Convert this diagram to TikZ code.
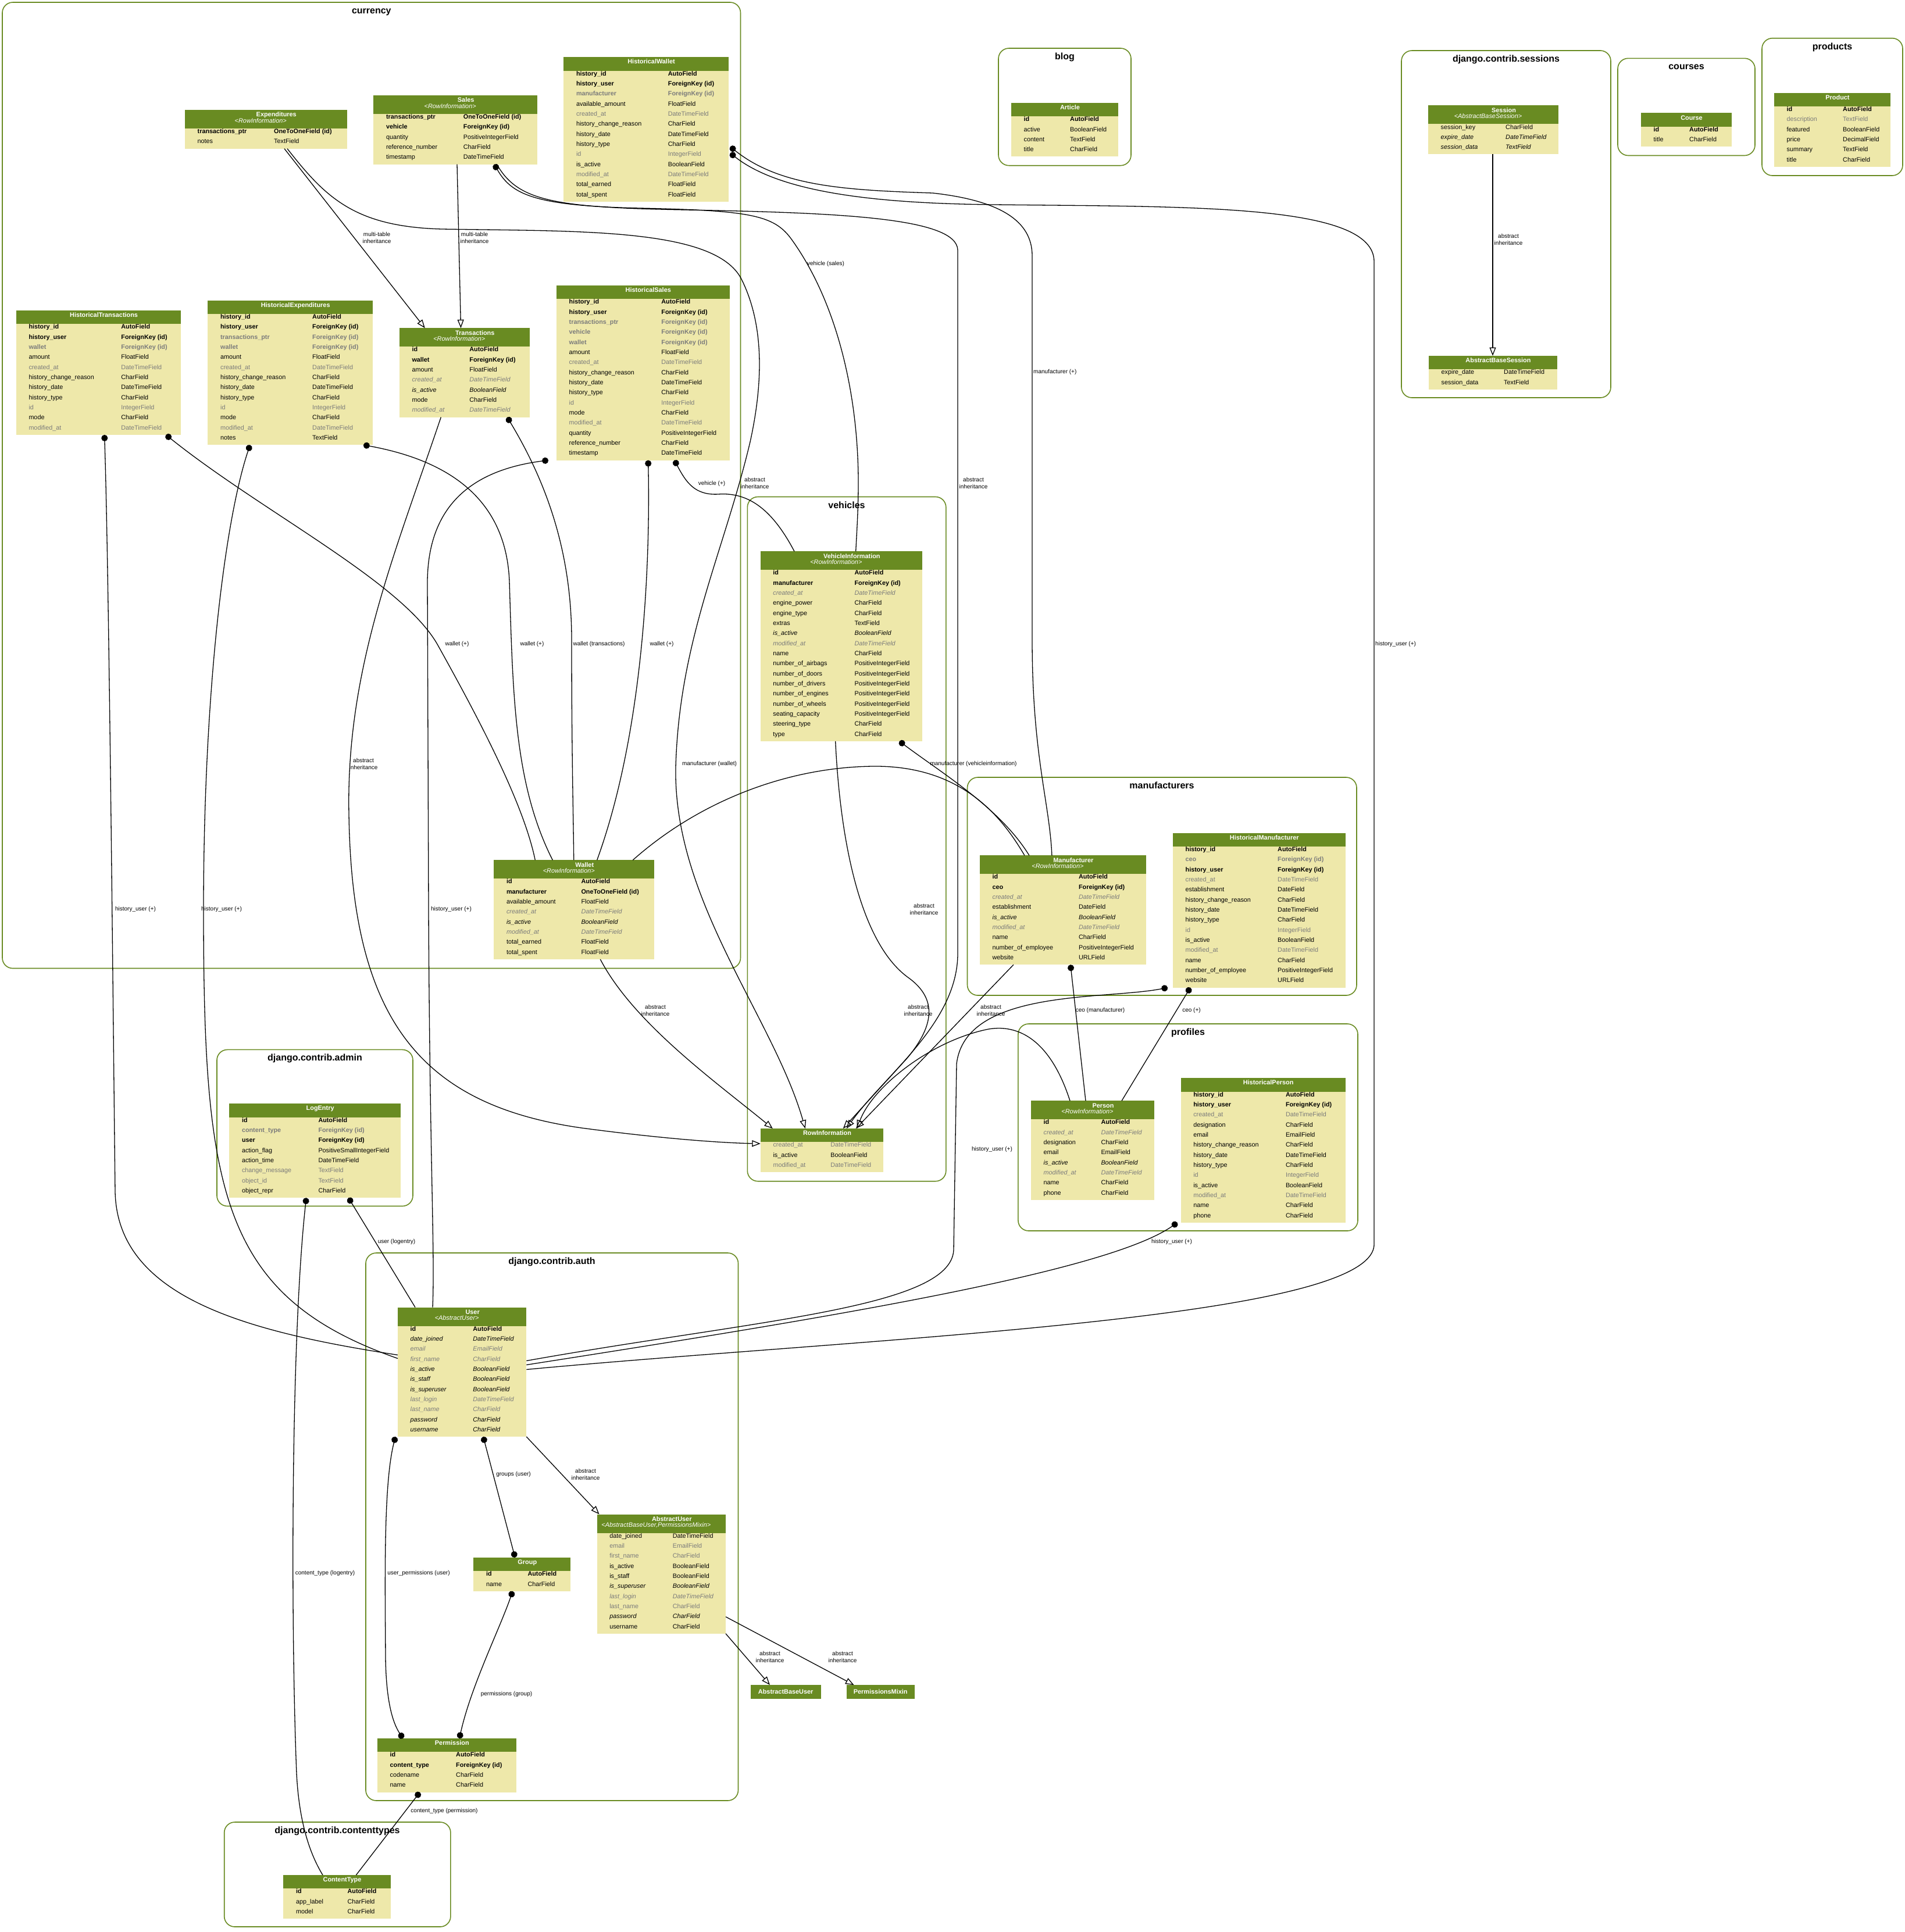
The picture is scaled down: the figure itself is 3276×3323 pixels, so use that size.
\documentclass[tikz,border=0pt]{standalone}
\usepackage{fontspec}
\setmainfont{Liberation Sans}
\usetikzlibrary{calc,arrows.meta}

\definecolor{tblgreen}{HTML}{698B22}
\definecolor{tblpale}{HTML}{EEE8AA}
\definecolor{fieldgray}{HTML}{7B7B7B}

\tikzset{
  tblbody/.style={fill=tblpale, inner sep=0pt, outer sep=0pt},
  hdrtext/.style={text=white, inner sep=0pt, anchor=mid, font=\fontsize{10.9}{12}\selectfont\bfseries},
  hdrsub/.style={text=white, inner sep=0pt, anchor=mid, font=\fontsize{10.9}{12}\selectfont\itshape},
  hdronly/.style={fill=tblgreen, text=white, inner sep=0pt, anchor=north west, minimum height=23.3pt, font=\fontsize{10.9}{12}\selectfont\bfseries},
  cell/.style={inner sep=0pt, anchor=mid west, font=\fontsize{10.8}{12}\selectfont},
  fn/.style={},
  fb/.style={font=\fontsize{10.8}{12}\selectfont\bfseries},
  fi/.style={font=\fontsize{10.8}{12}\selectfont\itshape},
  fg/.style={text=fieldgray},
  fgb/.style={text=fieldgray, font=\fontsize{10.8}{12}\selectfont\bfseries},
  fgi/.style={text=fieldgray, font=\fontsize{10.8}{12}\selectfont\itshape},
  cluster/.style={draw=tblgreen, line width=1.6pt, rounded corners=18pt},
  apptitle/.style={font=\fontsize{16}{18}\selectfont\bfseries, inner sep=0pt, anchor=mid},
  rel/.style={line width=1.3pt},
  fk/.style={rel, {Circle[length=11pt]}-},
  mm/.style={rel, {Circle[length=11pt]}-{Circle[length=11pt]}},
  inh/.style={rel, -{Triangle[open, length=14.5pt, width=11pt]}},
  lbl/.style={font=\fontsize{10}{11.3}\selectfont, align=center, inner sep=0pt}
}

% #1 name, #2 left, #3 top, #4 width, #5 type column, #6 title, #7 parents, #8 rows
\newcommand{\dbtable}[8]{%
  \def\hdrh{23.3}\ifx\relax#7\relax\else\def\hdrh{32}\fi
  \foreach \fsty/\fname/\ftype [count=\k] in {#8} {\xdef\nrows{\k}}
  \pgfmathsetmacro\tblh{\hdrh+17.33*\nrows}
  \node[tblbody, minimum width=#4pt, minimum height=\tblh pt, anchor=north west] (#1) at (#2,#3) {};
  \fill[tblgreen] (#1.north west) rectangle ++(#4,\hdrh);
  \ifx\relax#7\relax
    \node[hdrtext] (#1-title) at ($(#1.north west)+(#4/2+9,9)$) {#6};
  \else
    \node[hdrtext] (#1-title) at ($(#1.north west)+(#4/2+18,9.3)$) {#6};
    \node[hdrsub] (#1-sub) at ($(#1.north west)+(#4/2-9,19.7)$) {<#7>};
  \fi
  \foreach \fsty/\fname/\ftype [count=\k] in {#8} {
    \pgfmathsetmacro\rowy{\hdrh+6+17.33*(\k-1)}
    \node[cell,\fsty] (#1-n\k) at ($(#1.north west)+(21.5,\rowy)$) {\fname};
    \node[cell,\fsty] (#1-t\k) at ($(#1.north west)+(#5,\rowy)$) {\ftype};
  }
}

\begin{document}
\begin{tikzpicture}[x=1pt,y=-1pt]
  \useasboundingbox[fill=white] (0,0) rectangle (3276,3323);

  % apps
  \draw[cluster] (4,4) rectangle (1273.5,1665.5);
  \node[apptitle] (app-currency) at (638.8,21) {currency};
  \draw[cluster] (1717,83) rectangle (1945,284.7);
  \node[apptitle] (app-blog) at (1831,100) {blog};
  \draw[cluster] (2410,87) rectangle (2770,684);
  \node[apptitle] (app-sessions) at (2590,104) {django.contrib.sessions};
  \draw[cluster] (2782,100.3) rectangle (3018,267.5);
  \node[apptitle] (app-courses) at (2900,117.3) {courses};
  \draw[cluster] (3030,65.7) rectangle (3272,302);
  \node[apptitle] (app-products) at (3151,82.7) {products};
  \draw[cluster] (1285.3,854.5) rectangle (1626.8,2031.7);
  \node[apptitle] (app-vehicles) at (1456,871.5) {vehicles};
  \draw[cluster] (1663.5,1337) rectangle (2333,1712);
  \node[apptitle] (app-manufacturers) at (1998,1354) {manufacturers};
  \draw[cluster] (1750.9,1761) rectangle (2335,2117);
  \node[apptitle] (app-profiles) at (2043,1778) {profiles};
  \draw[cluster] (373,1805.4) rectangle (710,2074.5);
  \node[apptitle] (app-admin) at (541.5,1822) {django.contrib.admin};
  \draw[cluster] (629,2155) rectangle (1269.5,3097);
  \node[apptitle] (app-auth) at (949,2172) {django.contrib.auth};
  \draw[cluster] (385.7,3134) rectangle (774.9,3314);
  \node[apptitle] (app-contenttypes) at (580,3151) {django.contrib.contenttypes};

  % currency
  \dbtable{expenditures}{318}{189}{278.5}{153}{Expenditures}{RowInformation}{
    fb/transactions\_ptr/OneToOneField (id), fn/notes/TextField}
  \dbtable{sales}{642.4}{164}{281.6}{154.3}{Sales}{RowInformation}{
    fb/transactions\_ptr/OneToOneField (id), fb/vehicle/ForeignKey (id),
    fn/quantity/PositiveIntegerField, fn/reference\_number/CharField, fn/timestamp/DateTimeField}
  \dbtable{histwallet}{969.3}{98.3}{283.5}{179.4}{HistoricalWallet}{}{
    fb/history\_id/AutoField, fb/history\_user/ForeignKey (id), fgb/manufacturer/ForeignKey (id),
    fn/available\_amount/FloatField, fg/created\_at/DateTimeField, fn/history\_change\_reason/CharField,
    fn/history\_date/DateTimeField, fn/history\_type/CharField, fg/id/IntegerField,
    fn/is\_active/BooleanField, fg/modified\_at/DateTimeField, fn/total\_earned/FloatField,
    fn/total\_spent/FloatField}
  \dbtable{histtrans}{27.8}{534}{283.6}{180.4}{HistoricalTransactions}{}{
    fb/history\_id/AutoField, fb/history\_user/ForeignKey (id), fgb/wallet/ForeignKey (id),
    fn/amount/FloatField, fg/created\_at/DateTimeField, fn/history\_change\_reason/CharField,
    fn/history\_date/DateTimeField, fn/history\_type/CharField, fg/id/IntegerField,
    fn/mode/CharField, fg/modified\_at/DateTimeField}
  \dbtable{histexp}{357.4}{516.7}{283.6}{179.6}{HistoricalExpenditures}{}{
    fb/history\_id/AutoField, fb/history\_user/ForeignKey (id), fgb/transactions\_ptr/ForeignKey (id),
    fgb/wallet/ForeignKey (id), fn/amount/FloatField, fg/created\_at/DateTimeField,
    fn/history\_change\_reason/CharField, fn/history\_date/DateTimeField, fn/history\_type/CharField,
    fg/id/IntegerField, fn/mode/CharField, fg/modified\_at/DateTimeField, fn/notes/TextField}
  \dbtable{transactions}{686.8}{564.3}{224}{120.4}{Transactions}{RowInformation}{
    fb/id/AutoField, fb/wallet/ForeignKey (id), fn/amount/FloatField, fgi/created\_at/DateTimeField,
    fi/is\_active/BooleanField, fn/mode/CharField, fgi/modified\_at/DateTimeField}
  \dbtable{histsales}{957}{491}{297.6}{180.2}{HistoricalSales}{}{
    fb/history\_id/AutoField, fb/history\_user/ForeignKey (id), fgb/transactions\_ptr/ForeignKey (id),
    fgb/vehicle/ForeignKey (id), fgb/wallet/ForeignKey (id), fn/amount/FloatField,
    fg/created\_at/DateTimeField, fn/history\_change\_reason/CharField, fn/history\_date/DateTimeField,
    fn/history\_type/CharField, fg/id/IntegerField, fn/mode/CharField, fg/modified\_at/DateTimeField,
    fn/quantity/PositiveIntegerField, fn/reference\_number/CharField, fn/timestamp/DateTimeField}
  \dbtable{wallet}{849.3}{1479.3}{276}{150}{Wallet}{RowInformation}{
    fb/id/AutoField, fb/manufacturer/OneToOneField (id), fn/available\_amount/FloatField,
    fgi/created\_at/DateTimeField, fi/is\_active/BooleanField, fgi/modified\_at/DateTimeField,
    fn/total\_earned/FloatField, fn/total\_spent/FloatField}

  % vehicles
  \dbtable{vehicleinfo}{1307.7}{948.3}{278.3}{161.7}{VehicleInformation}{RowInformation}{
    fb/id/AutoField, fb/manufacturer/ForeignKey (id), fgi/created\_at/DateTimeField,
    fn/engine\_power/CharField, fn/engine\_type/CharField, fn/extras/TextField,
    fi/is\_active/BooleanField, fgi/modified\_at/DateTimeField, fn/name/CharField,
    fn/number\_of\_airbags/PositiveIntegerField, fn/number\_of\_doors/PositiveIntegerField,
    fn/number\_of\_drivers/PositiveIntegerField, fn/number\_of\_engines/PositiveIntegerField,
    fn/number\_of\_wheels/PositiveIntegerField, fn/seating\_capacity/PositiveIntegerField,
    fn/steering\_type/CharField, fn/type/CharField}
  \dbtable{rowinfo}{1307.8}{1941}{211.5}{120.4}{RowInformation}{}{
    fg/created\_at/DateTimeField, fn/is\_active/BooleanField, fg/modified\_at/DateTimeField}

  % manufacturers, profiles
  \dbtable{manufacturer}{1684.9}{1471.3}{286}{170}{Manufacturer}{RowInformation}{
    fb/id/AutoField, fb/ceo/ForeignKey (id), fgi/created\_at/DateTimeField,
    fn/establishment/DateField, fi/is\_active/BooleanField, fgi/modified\_at/DateTimeField,
    fn/name/CharField, fn/number\_of\_employee/PositiveIntegerField, fn/website/URLField}
  \dbtable{histmanu}{2017}{1432.7}{296.6}{180}{HistoricalManufacturer}{}{
    fb/history\_id/AutoField, fgb/ceo/ForeignKey (id), fb/history\_user/ForeignKey (id),
    fg/created\_at/DateTimeField, fn/establishment/DateField, fn/history\_change\_reason/CharField,
    fn/history\_date/DateTimeField, fn/history\_type/CharField, fg/id/IntegerField,
    fn/is\_active/BooleanField, fg/modified\_at/DateTimeField, fn/name/CharField,
    fn/number\_of\_employee/PositiveIntegerField, fn/website/URLField}
  \dbtable{person}{1773}{1893.3}{212}{120.3}{Person}{RowInformation}{
    fb/id/AutoField, fgi/created\_at/DateTimeField, fn/designation/CharField, fn/email/EmailField,
    fi/is\_active/BooleanField, fgi/modified\_at/DateTimeField, fn/name/CharField, fn/phone/CharField}
  \dbtable{histperson}{2030.6}{1854.3}{283}{180.2}{HistoricalPerson}{}{
    fb/history\_id/AutoField, fb/history\_user/ForeignKey (id), fg/created\_at/DateTimeField,
    fn/designation/CharField, fn/email/EmailField, fn/history\_change\_reason/CharField,
    fn/history\_date/DateTimeField, fn/history\_type/CharField, fg/id/IntegerField,
    fn/is\_active/BooleanField, fg/modified\_at/DateTimeField, fn/name/CharField, fn/phone/CharField}

  % django apps
  \dbtable{logentry}{394.3}{1898.3}{294.7}{153}{LogEntry}{}{
    fb/id/AutoField, fgb/content\_type/ForeignKey (id), fb/user/ForeignKey (id),
    fn/action\_flag/PositiveSmallIntegerField, fn/action\_time/DateTimeField,
    fg/change\_message/TextField, fg/object\_id/TextField, fn/object\_repr/CharField}
  \dbtable{user}{684}{2248.5}{221.3}{129.2}{User}{AbstractUser}{
    fb/id/AutoField, fi/date\_joined/DateTimeField, fgi/email/EmailField, fgi/first\_name/CharField,
    fi/is\_active/BooleanField, fi/is\_staff/BooleanField, fi/is\_superuser/BooleanField,
    fgi/last\_login/DateTimeField, fgi/last\_name/CharField, fi/password/CharField, fi/username/CharField}
  \dbtable{group}{814.3}{2678.8}{167}{93}{Group}{}{fb/id/AutoField, fn/name/CharField}
  \dbtable{abstractuser}{1026.6}{2604.5}{221.4}{130}{AbstractUser}{AbstractBaseUser,PermissionsMixin}{
    fn/date\_joined/DateTimeField, fg/email/EmailField, fg/first\_name/CharField,
    fn/is\_active/BooleanField, fn/is\_staff/BooleanField, fi/is\_superuser/BooleanField,
    fgi/last\_login/DateTimeField, fg/last\_name/CharField, fi/password/CharField, fn/username/CharField}
  \dbtable{permission}{649}{2990}{238.6}{135}{Permission}{}{
    fb/id/AutoField, fb/content\_type/ForeignKey (id), fn/codename/CharField, fn/name/CharField}
  \node[hdronly, minimum width=121pt] (abstractbaseuser) at (1290.5,2898) {AbstractBaseUser};
  \node[hdronly, minimum width=116.6pt] (permissionsmixin) at (1455.7,2898) {PermissionsMixin};
  \dbtable{contenttype}{487.4}{3225}{184.3}{110}{ContentType}{}{
    fb/id/AutoField, fn/app\_label/CharField, fn/model/CharField}
  \dbtable{article}{1739}{176.8}{184}{101}{Article}{}{
    fb/id/AutoField, fn/active/BooleanField, fn/content/TextField, fn/title/CharField}
  \dbtable{session}{2456}{181.4}{224}{133}{Session}{AbstractBaseSession}{
    fn/session\_key/CharField, fi/expire\_date/DateTimeField, fi/session\_data/TextField}
  \dbtable{abstractbasesession}{2457}{612}{221}{129}{AbstractBaseSession}{}{
    fn/expire\_date/DateTimeField, fn/session\_data/TextField}
  \dbtable{course}{2822}{194.4}{156}{83}{Course}{}{fb/id/AutoField, fn/title/CharField}
  \dbtable{product}{3051}{159.6}{200}{118}{Product}{}{
    fb/id/AutoField, fg/description/TextField, fn/featured/BooleanField, fn/price/DecimalField,
    fn/summary/TextField, fn/title/CharField}

  % inheritance
  \draw[inh] ([xshift=171pt]expenditures.south west) -- ([xshift=44pt]transactions.north west);
  \draw[inh] ([xshift=143.6pt]sales.south west) -- ([xshift=105.7pt]transactions.north west);
  \draw[inh] ([xshift=176pt]expenditures.south west) .. controls (560,340) and (610,390) .. (760,394)
    .. controls (1000,398) and (1230,392) .. (1275,480)
    .. controls (1315,560) and (1312,660) .. (1290,760)
    .. controls (1245,950) and (1168,1100) .. (1162,1320)
    .. controls (1158,1550) and (1330,1750) .. ([xshift=77pt]rowinfo.north west);
  \draw[inh] ([xshift=212pt]sales.south west) .. controls (890,345) and (950,357) .. (1180,361)
    .. controls (1450,366) and (1645,375) .. (1647,430) -- (1647,1640)
    .. controls (1647,1760) and (1520,1850) .. ([xshift=148pt]rowinfo.north west);
  \draw[inh] ([xshift=71.5pt]transactions.south west) .. controls (680,950) and (595,1150) .. (600,1400)
    .. controls (605,1750) and (720,1900) .. (1000,1940)
    .. controls (1150,1960) and (1250,1966) .. ([yshift=-26pt]rowinfo.north west);
  \draw[inh] ([xshift=183pt]wallet.south west) .. controls (1090,1760) and (1230,1860) .. ([xshift=21pt]rowinfo.north west);
  \draw[inh] ([xshift=129pt]vehicleinfo.south west) .. controls (1445,1450) and (1480,1620) .. (1560,1680)
    .. controls (1610,1715) and (1610,1760) .. (1560,1820) -- ([xshift=142pt]rowinfo.north west);
  \draw[inh] ([xshift=58pt]manufacturer.south west) -- ([xshift=164pt]rowinfo.north west);
  \draw[inh] ([xshift=67pt]person.north west) .. controls (1810,1800) and (1760,1760) .. (1700,1770)
    .. controls (1600,1790) and (1500,1870) .. ([xshift=166pt]rowinfo.north west);
  \draw[inh] (user.south east) -- ([xshift=4pt]abstractuser.north west);
  \draw[inh] (abstractuser.south east) -- ([xshift=33.5pt]abstractbaseuser.north west);
  \draw[inh] ([yshift=29pt]abstractuser.south east) -- ([xshift=12.8pt]permissionsmixin.north west);
  \draw[inh] ([xshift=111pt]session.south west) -- ([xshift=110pt]abstractbasesession.north west);

  % relations
  \draw[fk] ([xshift=207.6pt]sales.south west) .. controls (880,335) and (920,354) .. (1100,358)
    .. controls (1290,362) and (1330,370) .. (1360,410)
    .. controls (1440,520) and (1476,680) .. (1476,830)
    .. controls (1476,880) and (1473,920) .. ([xshift=164pt]vehicleinfo.north west);
  \draw[fk] ([xshift=202.8pt]histsales.south west) .. controls (1180,830) and (1195,852) .. (1235,850)
    .. controls (1290,846) and (1330,880) .. ([xshift=58.3pt]vehicleinfo.north west);
  \draw[fk] ([shift={(3,154)}]histwallet.north east) .. controls (1340,320) and (1450,327) .. (1604,332)
    .. controls (1720,345) and (1775,380) .. (1775,440) -- (1775,1100)
    .. controls (1775,1300) and (1805,1380) .. ([xshift=124pt]manufacturer.north west);
  \draw[fk] ([shift={(3,165)}]histwallet.north east) .. controls (1340,330) and (1500,350) .. (1710,352)
    .. controls (2050,356) and (2363,350) .. (2363,450) -- (2363,2140)
    .. controls (2363,2270) and (1500,2300) .. ([yshift=-107pt]user.north east);
  \draw[fk] ([xshift=-6pt]histperson.south west) .. controls (1900,2190) and (1400,2270) .. ([yshift=-99pt]user.north east);
  \draw[fk] ([xshift=-9pt]histmanu.south west) .. controls (1900,1720) and (1660,1700) .. (1645,1830) -- (1640,2150)
    .. controls (1635,2250) and (1300,2270) .. ([yshift=-92pt]user.north east);
  \draw[fk] ([xshift=156pt]manufacturer.south west) -- ([xshift=94pt]person.north west);
  \draw[fk] ([xshift=30pt]histmanu.south west) -- ([xshift=156pt]person.north west);
  \draw[rel] ([xshift=239pt]wallet.north west) .. controls (1200,1380) and (1350,1320) .. (1500,1318)
    .. controls (1650,1316) and (1720,1400) .. ([xshift=77pt]manufacturer.north west);
  \draw[fk] ([xshift=239pt]vehicleinfo.south west) .. controls (1620,1330) and (1720,1390) .. ([xshift=85pt]manufacturer.north west);
  \draw[fk] ([xshift=257.6pt]histtrans.south west) .. controls (450,880) and (690,1000) .. (752,1108)
    .. controls (820,1230) and (900,1380) .. ([xshift=71pt]wallet.north west);
  \draw[fk] ([xshift=267.6pt]histexp.south west) .. controls (760,790) and (870,850) .. (876,1000)
    .. controls (882,1200) and (885,1350) .. ([xshift=101pt]wallet.north west);
  \draw[fk] ([xshift=185.5pt]transactions.south west) .. controls (940,830) and (983,950) .. (983,1100)
    .. controls (983,1300) and (986,1400) .. ([xshift=137.4pt]wallet.north west);
  \draw[fk] ([xshift=157.6pt]histsales.south west) .. controls (1118,950) and (1110,1250) .. ([xshift=177.4pt]wallet.north west);
  \draw[fk] ([xshift=151.8pt]histtrans.south west) .. controls (188,1000) and (195,1800) .. (198,2050)
    .. controls (202,2230) and (420,2290) .. ([yshift=-82pt]user.north west);
  \draw[fk] ([xshift=72.6pt]histexp.south west) .. controls (385,900) and (350,1200) .. (350,1564)
    .. controls (350,2050) and (380,2230) .. ([yshift=-88pt]user.north west);
  \draw[fk] ([xshift=-14pt]histsales.south west) .. controls (800,810) and (736,880) .. (735,1000) -- (737,1564)
    .. controls (739,2000) and (748,2150) .. ([xshift=60pt]user.north west);
  \draw[fk] ([xshift=205pt]logentry.south west) -- ([xshift=30pt]user.north west);
  \draw[fk] ([xshift=132.4pt]logentry.south west) .. controls (500,2300) and (500,2800) .. (510,3050)
    .. controls (515,3150) and (540,3200) .. ([xshift=67.6pt]contenttype.north west);
  \draw[mm] ([xshift=-4pt]user.south west) .. controls (660,2550) and (662,2700) .. (663,2850)
    .. controls (664,2940) and (680,2970) .. ([xshift=44pt]permission.north west);
  \draw[mm] ([xshift=147pt]user.south west) -- ([xshift=71.4pt]group.north west);
  \draw[mm] ([xshift=67.3pt]group.south west) .. controls (860,2800) and (810,2900) .. ([xshift=141pt]permission.north west);
  \draw[fk] ([xshift=73pt]permission.south west) -- ([xshift=125pt]contenttype.north west);

  % edge labels
  \node[lbl] (l-1) at (648,409) {multi-table\\inheritance};
  \node[lbl] (l-2) at (816,409) {multi-table\\inheritance};
  \node[lbl] (l-3) at (1298,831) {abstract\\inheritance};
  \node[lbl] (l-4) at (1674,831) {abstract\\inheritance};
  \node[lbl] (l-5) at (1420,454) {vehicle (sales)};
  \node[lbl] (l-6) at (1224,832) {vehicle (+)};
  \node[lbl, anchor=west] (l-7) at (1777,639.5) {manufacturer (+)};
  \node[lbl, anchor=west] (l-8) at (2365,1108) {history\_user (+)};
  \node[lbl] (l-9) at (786,1108) {wallet (+)};
  \node[lbl] (l-10) at (915,1108) {wallet (+)};
  \node[lbl] (l-11) at (1030,1108) {wallet (transactions)};
  \node[lbl] (l-12) at (1138,1108) {wallet (+)};
  \node[lbl] (l-13) at (625,1314) {abstract\\inheritance};
  \node[lbl] (l-14) at (1220,1314) {manufacturer (wallet)};
  \node[lbl] (l-15) at (1674,1314) {manufacturer (vehicleinformation)};
  \node[lbl] (l-16) at (233,1564) {history\_user (+)};
  \node[lbl] (l-17) at (381,1564) {history\_user (+)};
  \node[lbl] (l-18) at (776,1564) {history\_user (+)};
  \node[lbl] (l-19) at (1589,1564) {abstract\\inheritance};
  \node[lbl] (l-20) at (1127,1738) {abstract\\inheritance};
  \node[lbl] (l-21) at (1579,1738) {abstract\\inheritance};
  \node[lbl] (l-22) at (1704,1738) {abstract\\inheritance};
  \node[lbl] (l-23) at (1892,1738) {ceo (manufacturer)};
  \node[lbl] (l-24) at (2049,1738) {ceo (+)};
  \node[lbl] (l-25) at (1706,1977) {history\_user (+)};
  \node[lbl] (l-26) at (2015,2136) {history\_user (+)};
  \node[lbl] (l-27) at (682,2136) {user (logentry)};
  \node[lbl] (l-28) at (559,2706) {content\_type (logentry)};
  \node[lbl] (l-29) at (720,2706) {user\_permissions (user)};
  \node[lbl] (l-30) at (883,2536) {groups (user)};
  \node[lbl] (l-31) at (1007,2536) {abstract\\inheritance};
  \node[lbl] (l-32) at (871,2914) {permissions (group)};
  \node[lbl] (l-33) at (1324,2850) {abstract\\inheritance};
  \node[lbl] (l-34) at (1449,2850) {abstract\\inheritance};
  \node[lbl] (l-35) at (764,3115) {content\_type (permission)};
  \node[lbl] (l-36) at (2594,412) {abstract\\inheritance};
\end{tikzpicture}
\end{document}
